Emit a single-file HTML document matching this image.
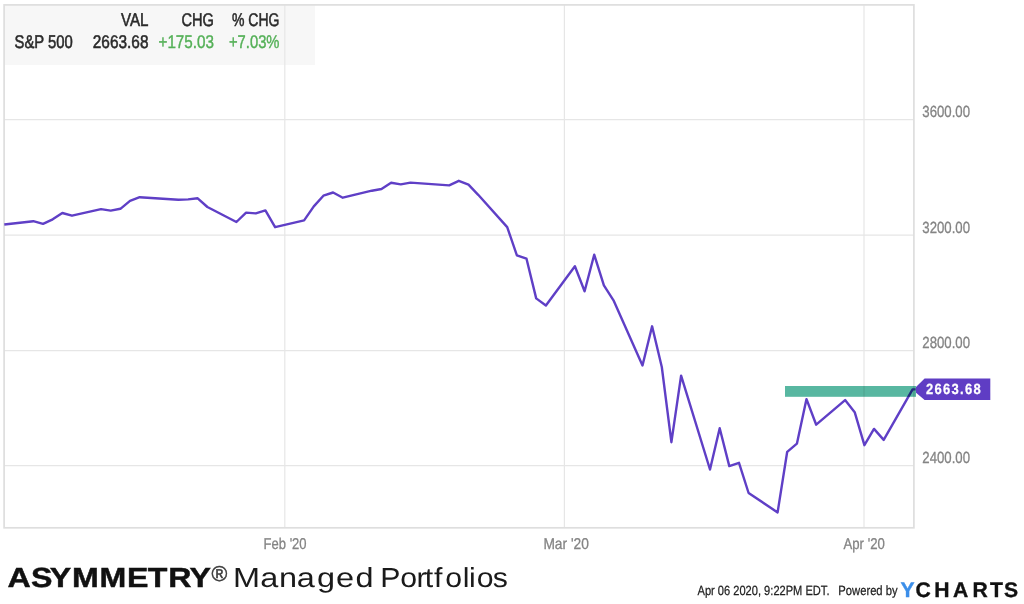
<!DOCTYPE html>
<html><head><meta charset="utf-8"><title>S&amp;P 500 chart</title>
<style>
html,body{margin:0;padding:0;background:#fff;}
body{width:1024px;height:604px;overflow:hidden;}
svg{display:block;}
text{font-family:"Liberation Sans",sans-serif;text-rendering:geometricPrecision;}
.ax{font-size:16.1px;fill:#848484;stroke:#848484;stroke-width:0.3px;}
.lg{font-size:18.4px;fill:#2a2a2a;stroke:#2a2a2a;stroke-width:0.55px;}
.gr{fill:#54b057;stroke:#54b057;stroke-width:0.4px;}
</style></head><body>
<svg width="1024" height="604" viewBox="0 0 1024 604">
<rect x="0" y="0" width="1024" height="604" fill="#fff"/>
<!-- legend box -->
<rect x="4" y="5" width="311" height="60" fill="#f7f7f7"/>
<!-- grid -->
<g stroke="#e6e6e6" stroke-width="1.2" fill="none">
<line x1="4" y1="119.6" x2="914" y2="119.6"/>
<line x1="4" y1="235.1" x2="914" y2="235.1"/>
<line x1="4" y1="350.6" x2="914" y2="350.6"/>
<line x1="4" y1="465.6" x2="914" y2="465.6"/>
<line x1="284.8" y1="5" x2="284.8" y2="528"/>
<line x1="564.4" y1="5" x2="564.4" y2="528"/>
<line x1="864" y1="5" x2="864" y2="528"/>
</g>
<rect x="4.1" y="4.9" width="909.8" height="522.9" fill="none" stroke="#dedede" stroke-width="1.7"/>
<!-- legend text -->
<text class="lg" x="148.5" y="25.5" text-anchor="end" textLength="27.5" lengthAdjust="spacingAndGlyphs">VAL</text>
<text class="lg" x="214" y="25.5" text-anchor="end" textLength="32.5" lengthAdjust="spacingAndGlyphs">CHG</text>
<text class="lg" x="279.5" y="25.5" text-anchor="end" textLength="47.5" lengthAdjust="spacingAndGlyphs">% CHG</text>
<text class="lg" x="14.5" y="47.5" textLength="58.2" lengthAdjust="spacingAndGlyphs">S&amp;P 500</text>
<text class="lg" x="148.5" y="47.5" text-anchor="end" textLength="55.7" lengthAdjust="spacingAndGlyphs">2663.68</text>
<text class="lg gr" x="214" y="47.5" text-anchor="end" textLength="55.5" lengthAdjust="spacingAndGlyphs">+175.03</text>
<text class="lg gr" x="279.5" y="47.5" text-anchor="end" textLength="50.5" lengthAdjust="spacingAndGlyphs">+7.03%</text>
<!-- y axis labels -->
<text class="ax" x="922.3" y="116.5" textLength="47.7" lengthAdjust="spacingAndGlyphs">3600.00</text>
<text class="ax" x="922.3" y="232.7" textLength="47.7" lengthAdjust="spacingAndGlyphs">3200.00</text>
<text class="ax" x="922.3" y="347.9" textLength="47.7" lengthAdjust="spacingAndGlyphs">2800.00</text>
<text class="ax" x="922.3" y="462.7" textLength="47.7" lengthAdjust="spacingAndGlyphs">2400.00</text>
<!-- x axis labels -->
<text class="ax" style="font-size:15.7px" x="263.6" y="549" textLength="43" lengthAdjust="spacingAndGlyphs">Feb '20</text>
<text class="ax" style="font-size:15.7px" x="543.4" y="549" textLength="45.5" lengthAdjust="spacingAndGlyphs">Mar '20</text>
<text class="ax" style="font-size:15.7px" x="843.5" y="549" textLength="41.3" lengthAdjust="spacingAndGlyphs">Apr '20</text>
<!-- series -->
<polyline points="4.3,224.5 33.3,221.2 43.0,223.8 52.7,219.3 62.3,213.0 72.0,215.7 101.0,209.1 110.7,210.6 120.4,208.8 130.0,200.8 139.7,197.2 178.4,199.7 188.1,199.4 197.7,198.3 207.4,207.0 236.4,222.0 246.1,212.6 255.8,213.4 265.4,210.4 275.1,227.2 304.1,220.4 313.8,206.4 323.4,195.7 333.1,192.5 342.8,197.7 371.8,190.7 381.5,189.0 391.1,182.8 400.8,184.4 410.5,182.6 449.2,185.4 458.8,180.8 468.5,184.6 478.2,194.8 507.2,227.1 516.9,255.3 526.5,258.7 536.2,298.4 545.9,305.5 574.9,266.3 584.6,291.3 594.2,254.7 603.9,285.4 613.5,300.3 642.5,365.5 652.1,326.3 661.8,367.0 671.4,442.2 681.1,375.7 710.0,469.5 719.7,428.2 729.3,466.1 739.0,462.8 748.6,493.0 777.6,512.4 787.2,451.8 796.9,443.7 806.5,399.1 816.2,424.7 845.1,400.1 854.7,412.2 864.4,445.2 874.0,428.9 883.7,439.9 912.6,389.4 915.6,389.4" fill="none" stroke="#5f3fc6" stroke-width="2.4" stroke-linejoin="round" stroke-linecap="butt"/>
<!-- value tag -->
<path d="M916,387 L924.6,378.4 L990.3,378.4 L990.3,400.1 L924.6,400.1 L916,392.7 Z" fill="#5f3dc4"/>
<g transform="translate(926.1,393.5) scale(0.88,1)"><text x="0" y="0" font-size="14.8" font-weight="bold" fill="#fff" stroke="#fff" stroke-width="0.25" textLength="62" lengthAdjust="spacing">2663.68</text></g>
<!-- green highlight bar -->
<rect x="785" y="386" width="131" height="10.8" fill="#58b7a1" style="mix-blend-mode:multiply"/>
<!-- footer -->
<g transform="scale(1.1693,1)"><text x="6.41 26.51 42.61 61.63 85.14 108.73 126.32 143.92 162.06" y="587.4" font-size="27.5" font-weight="bold" fill="#111" stroke="#111" stroke-width="0.45">ASYMMETRY</text></g>
<text x="211.4" y="581.4" font-size="21.5" fill="#3a3a3a" stroke="#3a3a3a" stroke-width="0.45" textLength="15.8" lengthAdjust="spacingAndGlyphs">®</text>
<g transform="scale(1.1792,1)"><text x="197.62 220.73 236.64 251.73 268.74 284.98 301.39" y="586.6" font-size="27.5" fill="#1a1a1a">Managed</text></g>
<g transform="scale(1.1000,1)"><text x="345.70 363.89 378.63 386.22 394.59 404.75 420.67 426.31 433.48 447.98" y="586.6" font-size="27.5" fill="#1a1a1a">Portfolios</text></g>
<text x="697.5" y="595.4" font-size="13.3" fill="#222" stroke="#222" stroke-width="0.25" textLength="132" lengthAdjust="spacingAndGlyphs">Apr 06 2020, 9:22PM EDT.</text>
<text x="838.3" y="595.4" font-size="13.3" fill="#222" stroke="#222" stroke-width="0.25" textLength="59.3" lengthAdjust="spacingAndGlyphs">Powered by</text>
<!-- YCharts wordmark -->
<g transform="scale(1.0064,1)"><text x="894.70 909.70 928.24 947.07 966.35 983.69 997.61" y="597.4" font-size="21" font-weight="bold" fill="#111" stroke="#111" stroke-width="0.35"><tspan fill="#3b8ee9" stroke="#3b8ee9">Y</tspan>CHARTS</text></g>
</svg>
</body></html>
